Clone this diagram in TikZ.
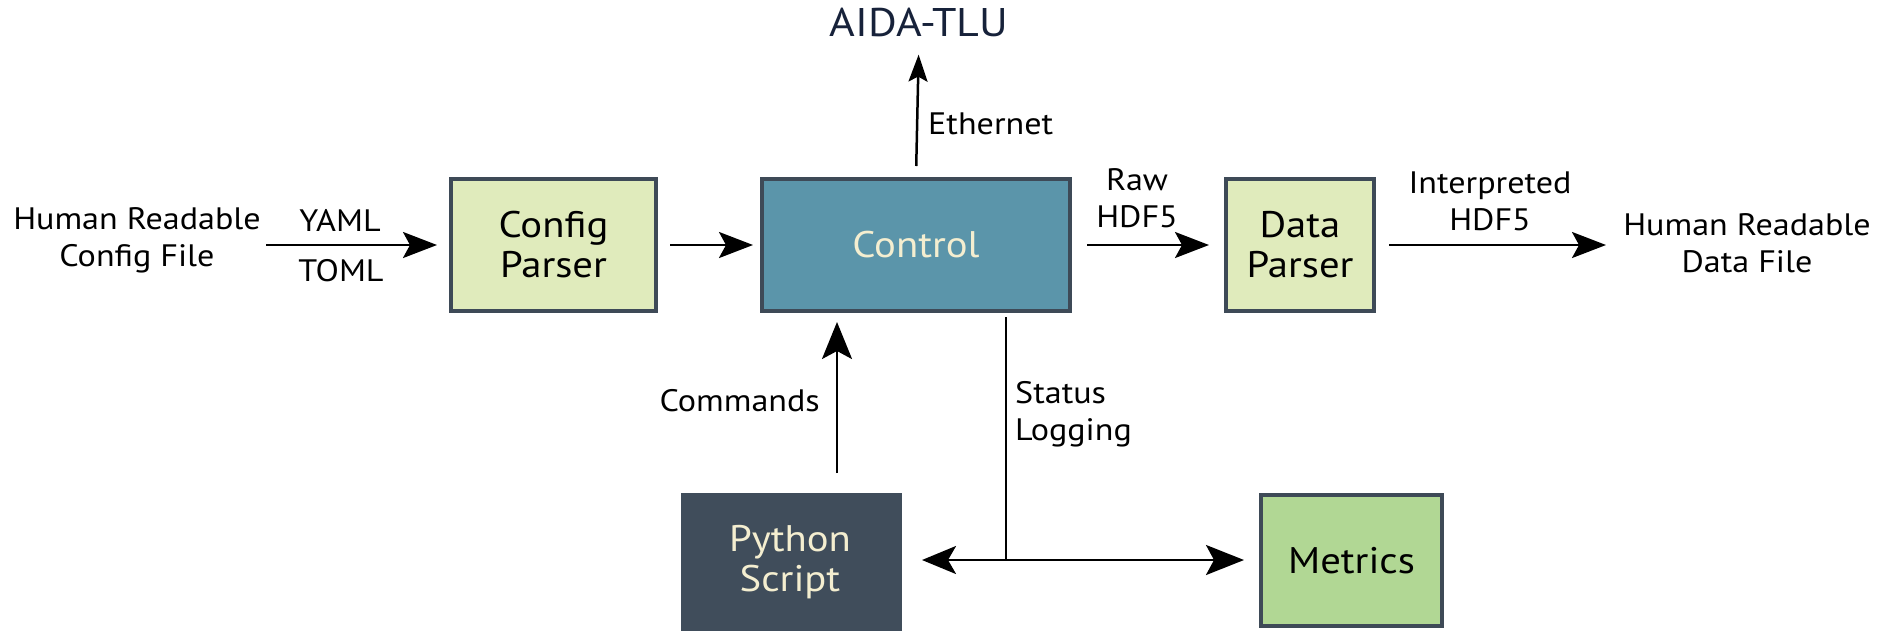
\documentclass[tikz,border=0pt]{standalone}
\usepackage{fontspec}
\setmainfont{PT Sans}[FakeStretch=1.1]
\usetikzlibrary{arrows.meta}

\definecolor{edgegray}{HTML}{3E4A57}
\definecolor{parsergreen}{HTML}{E0EBBC}
\definecolor{controlblue}{HTML}{5B95AA}
\definecolor{creamtext}{HTML}{F4EED0}
\definecolor{slatebox}{HTML}{404D5B}
\definecolor{metricsgreen}{HTML}{B1D794}
\definecolor{navytext}{HTML}{17223A}

\tikzset{
  block/.style={draw=edgegray, line width=4pt, inner sep=0pt, align=center,
    font=\fontsize{37}{40}\selectfont},
  lbl/.style={inner sep=0pt, align=center, font=\fontsize{31}{37}\selectfont},
  flow/.style={line width=2.5pt, -{Stealth[length=34pt,width=26pt,inset=7pt]}},
  bigflow/.style={line width=2.5pt, -{Stealth[length=37pt,width=30pt,inset=8pt]}},
  thinflow/.style={line width=2.5pt, -{Stealth[length=27pt,width=19pt,inset=5pt]}},
}

\begin{document}
\begin{tikzpicture}[x=1pt, y=-1pt]
\useasboundingbox (0,0) rectangle (1889,630);

% processing blocks
\node[block, fill=parsergreen, minimum width=205pt, minimum height=132pt]
  (cfg) at (553.5,245) {Config\\Parser};
\node[block, fill=controlblue, text=creamtext, minimum width=308pt, minimum height=132pt]
  (ctl) at (916,245) {Control};
\node[block, fill=parsergreen, minimum width=148pt, minimum height=132pt]
  (dat) at (1300,245) {Data\\Parser};
\node[block, draw=slatebox, fill=slatebox, minimum width=217pt, minimum height=170pt, anchor=north]
  (py) at (791.5,493) {};
\node[text=creamtext, align=center, font=\fontsize{37}{40}\selectfont, inner sep=0pt]
  (pytext) at (790,562) {Python\\Script};
\node[block, fill=metricsgreen, minimum width=181pt, minimum height=131pt]
  (met) at (1351.5,560.5) {Metrics};

% outside ends
\node[inner sep=0pt, text=navytext, font=\fontsize{40}{44}\selectfont] (tlu) at (919,22) {AIDA-TLU};
\node[lbl] (cfgfile) at (137,240) {Human Readable\\Config File};
\node[lbl] (datfile) at (1747,243) {Human Readable\\Data File};

% connector end points
\coordinate (cfgstart) at (266,245);
\coordinate (datend) at (1606,245);
\coordinate (tap) at (1006,560);

% connectors
\draw[flow, shorten >=12pt] (cfgstart) -- (cfg.west);
\draw[flow, shorten <=12pt, shorten >=7pt] (cfg.east) -- (ctl.west);
\draw[flow, shorten <=15pt, shorten >=15pt] (ctl.east) -- (dat.west);
\draw[flow, shorten <=13pt] (dat.east) -- (datend);
\draw[thinflow, shorten <=11pt, shorten >=18pt] (ctl.north) -- (tlu.south);
\draw[bigflow, shorten <=20pt, shorten >=9pt] (py.north -| 837,0) -- (ctl.south -| 837,0);
\draw[line width=2.5pt, shorten <=4pt] (ctl.south -| tap) -- (tap);
\draw[line width=2.5pt, {Stealth[length=34pt,width=28pt,inset=8pt]}-{Stealth[length=38pt,width=30pt,inset=8pt]},
  shorten <=20pt, shorten >=15pt] (py.east |- tap) -- (met.west |- tap);

% connector labels
\node[lbl] (yaml) at (340,220) {YAML};
\node[lbl] (toml) at (341,271) {TOML};
\node[lbl] (raw) at (1137,198) {Raw\\HDF5};
\node[lbl] (interp) at (1490,201) {Interpreted\\HDF5};
\node[lbl, anchor=west] (eth) at (928,124) {Ethernet};
\node[lbl, anchor=east] (cmd) at (820,401) {Commands};
\node[lbl, anchor=west, align=left] (stat) at (1015,414) {Status\\Logging};
\end{tikzpicture}
\end{document}
